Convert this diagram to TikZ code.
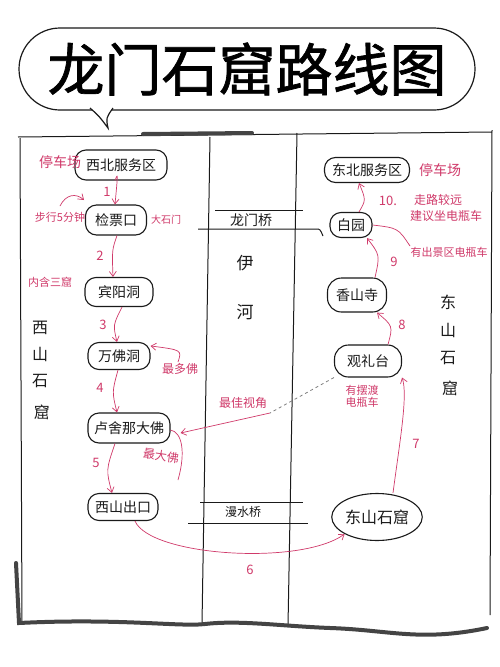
\documentclass[tikz,border=0pt]{standalone}
\usepackage{fontspec}
\setmainfont{Noto Sans CJK SC}
\newfontfamily\titlefont[FakeBold=1.2]{Noto Sans CJK SC}
\usetikzlibrary{arrows.meta,shapes.misc,shapes.geometric}
\definecolor{pen}{HTML}{D03A6A}
\definecolor{ink}{HTML}{1A1A1A}
\definecolor{thick}{HTML}{444444}
\tikzset{
  spot/.style={draw=ink, line width=1.1pt, rounded corners=11pt, inner sep=2pt,
    font=\fontsize{14}{14}\selectfont, text=ink},
  note/.style={text=pen, font=\fontsize{11}{12}\selectfont, inner sep=0pt, align=center},
  bignote/.style={text=pen, font=\fontsize{14}{14}\selectfont, inner sep=0pt},
  num/.style={text=pen, font=\fontsize{13}{13}\selectfont, inner sep=0pt},
  route/.style={draw=pen, line width=0.7pt, -{Straight Barb[length=5pt,width=7pt]}},
  plainred/.style={draw=pen, line width=0.7pt},
  frameline/.style={draw=ink, line width=1pt},
  thickline/.style={draw=thick, line width=4pt, line cap=round},
  vlabel/.style={text=ink, font=\fontsize{16}{16}\selectfont, inner sep=0pt},
}
\begin{document}
\begin{tikzpicture}[x=1pt,y=-1pt]
\useasboundingbox[fill=white] (0,0) rectangle (500,667);

% title bubble
\node (title) [draw=ink, rounded rectangle, line width=1.2pt, minimum width=456pt,
  minimum height=82pt, inner sep=0pt, font=\titlefont\fontsize{57}{57}\selectfont] at (247,69) {龙门石窟路线图};
\coordinate (t1) at (90,108);
\coordinate (t2) at (108,128);
\coordinate (t3) at (113,108);
\filldraw[fill=white, draw=ink, line width=1.2pt] (t1) .. controls (99,116) .. (t2) .. controls (106,118) .. (t3);

% frame
\coordinate (fl1) at (20,138);
\coordinate (fl2) at (22,623);
\coordinate (ft1) at (18,137);
\coordinate (ft2) at (492,132);
\coordinate (fr1) at (492,130);
\coordinate (fr2) at (490,615);
\coordinate (rw1) at (210,137);
\coordinate (rw2) at (202,624);
\coordinate (re1) at (297,133);
\coordinate (re2) at (288,626);
\draw[frameline] (fl1) -- (fl2);
\draw[frameline] (ft1) -- (ft2);
\draw[frameline] (fr1) -- (fr2);
\draw[frameline] (rw1) -- (rw2);
\draw[frameline] (re1) -- (re2);
\coordinate (tk1) at (143,134);
\coordinate (tk2) at (252,133);
\draw[thickline] (tk1) -- (tk2);
\coordinate (bk0) at (16,563);
\coordinate (bk1) at (19,623);
\coordinate (bk2) at (487,628);
\draw[thickline] (bk0) -- (bk1) .. controls (120,618) and (180,627) .. (205,624)
  .. controls (240,620) and (280,626) .. (330,628) .. controls (390,630) and (420,642) .. (bk2);

% bridges
\coordinate (lq1) at (215,210);
\coordinate (lq2) at (303,210);
\coordinate (lq3) at (198,229);
\coordinate (lq4) at (323,236);
\draw[frameline] (lq1) -- (lq2);
\draw[frameline] (lq3) -- (316,229) .. controls (320,229) .. (lq4);
\node (lmq) [text=ink, font=\fontsize{14}{14}\selectfont, inner sep=0pt] at (251,220) {龙门桥};
\coordinate (mq1) at (200,502);
\coordinate (mq2) at (303,502);
\coordinate (mq3) at (188,523);
\coordinate (mq4) at (308,523);
\draw[frameline] (mq1) -- (mq2);
\draw[frameline] (mq3) -- (mq4);
\node (msq) [text=ink, font=\fontsize{12}{12}\selectfont, inner sep=0pt] at (243,512) {漫水桥};

% river
\node (yi) [vlabel, font=\fontsize{17}{17}\selectfont] at (245,263) {伊};
\node (he) [vlabel, font=\fontsize{17}{17}\selectfont] at (245,312) {河};

% side labels
\node (w1) [vlabel] at (40,328) {西};
\node (w2) [vlabel] at (40,354) {山};
\node (w3) [vlabel] at (40,381) {石};
\node (w4) [vlabel] at (42,412) {窟};
\node (e1) [vlabel] at (448,302) {东};
\node (e2) [vlabel] at (448,330) {山};
\node (e3) [vlabel] at (448,358) {石};
\node (e4) [vlabel] at (450,388) {窟};

% west spots
\node (xb) [spot, minimum width=92pt, minimum height=30pt] at (121,165) {西北服务区};
\node (jp) [spot, minimum width=61pt, minimum height=30pt] at (116,220) {检票口};
\node (by) [spot, minimum width=68pt, minimum height=29pt] at (119,292) {宾阳洞};
\node (wf) [spot, minimum width=62pt, minimum height=27pt] at (119,356) {万佛洞};
\node (ls) [spot, minimum width=82pt, minimum height=30pt] at (129,428) {卢舍那大佛};
\node (xc) [spot, minimum width=70pt, minimum height=27pt] at (123,507) {西山出口};

% east spots
\node (db) [spot, minimum width=85pt, minimum height=25pt] at (367,170) {东北服务区};
\node (bai) [spot, minimum width=42pt, minimum height=25pt] at (351,225) {白园};
\node (xs) [spot, rounded corners=14pt, minimum width=59pt, minimum height=34pt] at (357,295) {香山寺};
\node (gl) [spot, rounded corners=14pt, minimum width=67pt, minimum height=32pt] at (368,361) {观礼台};
\node (ds) [spot, ellipse, inner sep=0pt, minimum width=83pt, minimum height=47pt, font=\fontsize{16}{16}\selectfont] at (377,517) {东山石窟};

% route west
\draw[route] ([xshift=-6pt]xb.south) .. controls ([xshift=-3pt,yshift=8pt]xb.south) .. ([xshift=-1pt]jp.north);
\node (n1) [num] at (107,192) {1};
\draw[route] ([xshift=1pt]jp.south) .. controls (112,250) .. ([xshift=-6pt]by.north);
\node (n2) [num] at (100,256) {2};
\draw[route] ([xshift=3pt]by.south) .. controls (113,325) .. ([xshift=-2pt]wf.north);
\node (n3) [num] at (103,325) {3};
\draw[route] ([xshift=-1pt]wf.south) .. controls (112,392) .. ([xshift=-12pt]ls.north);
\node (n4) [num] at (100,388) {4};
\draw[route] ([xshift=-14pt]ls.south) .. controls (106,470) .. ([xshift=-11pt]xc.north);
\node (n5) [num] at (96,463) {5};
\draw[route] ([xshift=12pt]xc.south) .. controls (150,556) and (300,566) .. (ds.south west);
\node (n6) [num] at (250,570) {6};

% route east
\draw[route] ([xshift=16pt]ds.north) .. controls (400,440) and (408,395) .. (gl.south east);
\node (n7) [num] at (416,444) {7};
\draw[route] ([xshift=20pt]gl.north) .. controls (393,326) .. ([xshift=20pt]xs.south);
\node (n8) [num] at (402,325) {8};
\draw[route] ([xshift=18pt]xs.north) .. controls (380,255) .. ([xshift=16pt]bai.south);
\node (n9) [num] at (394,262) {9};
\draw[route] ([xshift=8pt]bai.north) .. controls (366,200) .. ([xshift=-8pt]db.south);
\node (n10) [num] at (388,201) {10.};

% west notes
\node (p1) [bignote] at (60,162) {停车场};
\node (bx) [note] at (60,217) {步行5分钟};
\coordinate (bxa) at (60,206);
\coordinate (bxb) at (84,200);
\draw[route] (bxa) .. controls (66,194) and (76,193) .. (bxb);
\node (dsm) [note, font=\fontsize{10}{10}\selectfont] at (166,220) {大石门};
\node (nh) [note] at (50,282) {内含三窟};
\node (zd) [note, font=\fontsize{12}{12}\selectfont] at (180,369) {最多佛};
\coordinate (zda) at (178,362);
\draw[route] (zda) .. controls (182,350) .. ([yshift=-4pt]wf.north east);
\node (zdf) [note, font=\fontsize{12}{12}\selectfont, rotate=-8] at (161,456) {最大佛};
\coordinate (zdfa) at (178,480);
\draw[plainred] (zdfa) .. controls (186,452) and (182,432) .. ([yshift=-2pt]ls.east);
\node (zj) [note, font=\fontsize{12}{12}\selectfont] at (243,403) {最佳视角};
\coordinate (zja) at (270,413);
\draw[route] (zja) -- ([xshift=10pt,yshift=-5pt]ls.east);
\draw[draw=gray, line width=0.8pt, dashed] (gl.south west) -- (zja);

% east notes
\node (p2) [bignote] at (440,170) {停车场};
\node (zl) [note, font=\fontsize{12}{12}\selectfont] at (438,200) {走路较远};
\node (jy) [note, font=\fontsize{12}{12}\selectfont] at (446,216) {建议坐电瓶车};
\node (yc) [note] at (449,252) {有出景区电瓶车};
\coordinate (yca) at (410,246);
\draw[plainred] (yca) .. controls (398,228) .. (bai.east);
\node (bd) [note] at (362,396) {有摆渡\\电瓶车};
\end{tikzpicture}
\end{document}
